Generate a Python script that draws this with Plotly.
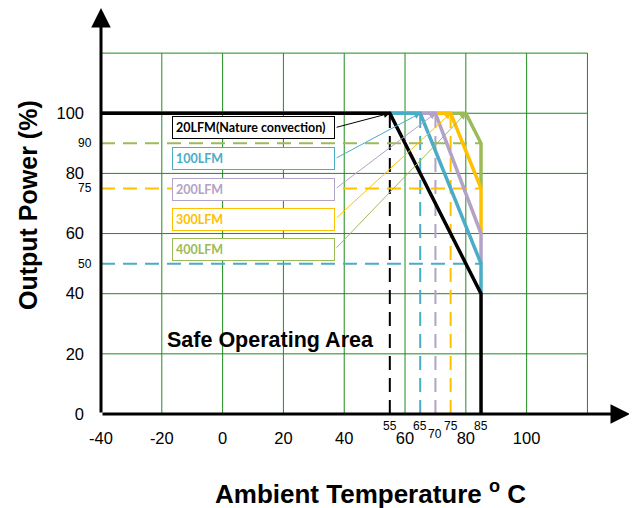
import plotly.graph_objects as go

# ---- data ----
series_names = ["20LFM(Nature convection)", "100LFM", "200LFM", "300LFM", "400LFM"]
series_colors = ["#000000", "#4BACC6", "#B3A2C7", "#FFC000", "#9BBB59"]
start_temp = -40
full_power = 100
full_power_end = [55, 65, 70, 75, 80]      # derating starts (°C)
end_temp = 85
power_at_end_top = [40, 50, 60, 75, 90]    # power at 85°C (%)
power_at_end_bottom = [0, 40, 50, 60, 75]

dash_v_temps = [55, 65, 70, 75]
dash_v_colors = ["#000000", "#4BACC6", "#B3A2C7", "#FFC000"]
dash_h_powers = [90, 75, 50]
dash_h_colors = ["#9BBB59", "#FFC000", "#4BACC6"]

x_tick_vals = [-40, -20, 0, 20, 40, 60, 80, 100]
y_tick_vals = [0, 20, 40, 60, 80, 100]
small_x_ticks = [55, 65, 70, 75, 85]
small_y_ticks = [90, 75, 50]
grid_x = [-20, 0, 20, 40, 60, 80, 100, 120]
grid_y = [20, 40, 60, 80, 100, 120]
grid_max = 120

label_box_y = [95.2, 84.9, 74.8, 64.8, 54.8]
label_box_x = 10.2
arrow_tail_x = 37

FONT = "Arial, Liberation Sans, sans-serif"
GRID = "#1E8C1E"

fig = go.Figure()

# dashed reference lines
for t, c in zip(dash_v_temps, dash_v_colors):
    fig.add_trace(go.Scatter(x=[t, t], y=[0, full_power], mode="lines",
                             line=dict(color=c, width=2, dash="14px,8px"),
                             hoverinfo="skip", showlegend=False))
for p, c in zip(dash_h_powers, dash_h_colors):
    fig.add_trace(go.Scatter(x=[start_temp, end_temp], y=[p, p], mode="lines",
                             line=dict(color=c, width=2, dash="14px,8px"),
                             hoverinfo="skip", showlegend=False))

# derating curves (draw from last to first so black on top)
for i in reversed(range(len(series_names))):
    fig.add_trace(go.Scatter(
        x=[start_temp, full_power_end[i], end_temp, end_temp],
        y=[full_power, full_power, power_at_end_top[i], power_at_end_bottom[i]],
        mode="lines", line=dict(color=series_colors[i], width=3.5),
        name=series_names[i], showlegend=False, hoverinfo="skip", cliponaxis=False))

shapes = []
for gx in grid_x:
    shapes.append(dict(type="line", x0=gx, x1=gx, y0=0, y1=grid_max, xref="x", yref="y",
                       line=dict(color=GRID, width=1), layer="below"))
for gy in grid_y:
    shapes.append(dict(type="line", x0=start_temp, x1=grid_max, y0=gy, y1=gy, xref="x", yref="y",
                       line=dict(color=GRID, width=1), layer="below"))

annotations = []
# axis arrows
annotations.append(dict(x=134, y=0, ax=start_temp, ay=0, xref="x", yref="y", axref="x", ayref="y",
                        showarrow=True, arrowhead=2, arrowsize=1.3, arrowwidth=3, arrowcolor="black", text=""))
annotations.append(dict(x=start_temp, y=135, ax=start_temp, ay=0, xref="x", yref="y", axref="x", ayref="y",
                        showarrow=True, arrowhead=2, arrowsize=1.3, arrowwidth=3, arrowcolor="black", text=""))

# label boxes and pointer arrows
for i, name in enumerate(series_names):
    annotations.append(dict(x=label_box_x, y=label_box_y[i], xref="x", yref="y", text=name,
                            showarrow=False, width=155, height=15, align="left",
                            bordercolor=series_colors[i], borderwidth=1, borderpad=3,
                            bgcolor="white",
                            font=dict(family="Lato, Open Sans, sans-serif", size=12.5,
                                      color=series_colors[i], weight="bold")))
    annotations.append(dict(x=full_power_end[i], y=full_power, ax=arrow_tail_x, ay=label_box_y[i],
                            xref="x", yref="y", axref="x", ayref="y", text="",
                            showarrow=True, arrowhead=2, arrowsize=1.2, arrowwidth=1,
                            arrowcolor=series_colors[i]))

# small tick labels
for t in small_x_ticks:
    annotations.append(dict(x=t, y=0, xref="x", yref="y", text=str(t), showarrow=False,
                            yanchor="top", yshift=-3 if t != 70 else -11,
                            font=dict(family=FONT, size=12, color="black")))
for p in small_y_ticks:
    annotations.append(dict(x=start_temp, y=p, xref="x", yref="y", text=str(p), showarrow=False,
                            xanchor="right", xshift=-7,
                            font=dict(family=FONT, size=12, color="black")))

annotations.append(dict(x=15.9, y=24.6, xref="x", yref="y", text="<b>Safe Operating Area</b>",
                        showarrow=False, font=dict(family=FONT, size=21.5, color="black")))
# titles placed by screen pixel (converted below)
annotations.append(dict(x=28, y=205, xref="paper", yref="paper",
                        xanchor="center", yanchor="middle",
                        text="<b>Output Power (%)</b>", textangle=-90, showarrow=False,
                        font=dict(family=FONT, size=25, color="black")))
annotations.append(dict(x=370, y=492, xref="paper", yref="paper",
                        xanchor="center", yanchor="middle",
                        text="<b>Ambient Temperature <sup>o</sup> C</b>", showarrow=False,
                        font=dict(family=FONT, size=26, color="black")))

# page body has an 8px margin: compensate so the plot lands where the reference has it
OFF = 8
W, H = 637 - OFF, 508 - OFF
L, T = 101 - OFF, 8 - OFF
R = W - (630 - OFF)
B = H - (414 - OFF)
pw, ph = W - L - R, H - T - B
for a in annotations:
    if a.get("xref") == "paper":
        a["x"] = (a["x"] - OFF - L) / pw
        a["y"] = (H - B - (a["y"] - OFF)) / ph

fig.update_layout(
    width=W, height=H,
    margin=dict(l=L, r=R, t=T, b=B, pad=0),
    paper_bgcolor="white", plot_bgcolor="white",
    xaxis=dict(range=[-40, 134], showgrid=False, zeroline=False, showline=False,
               automargin=False,
               tickvals=x_tick_vals, ticktext=[str(v) for v in x_tick_vals],
               ticks="", ticklabelstandoff=12,
               tickfont=dict(family=FONT, size=16.5, color="black")),
    yaxis=dict(range=[0, 135], showgrid=False, zeroline=False, showline=False,
               automargin=False,
               tickvals=y_tick_vals, ticktext=[str(v) for v in y_tick_vals],
               ticks="", ticklabelstandoff=16,
               tickfont=dict(family=FONT, size=16.5, color="black")),
    shapes=shapes, annotations=annotations,
)

fig.write_html("out.html")
